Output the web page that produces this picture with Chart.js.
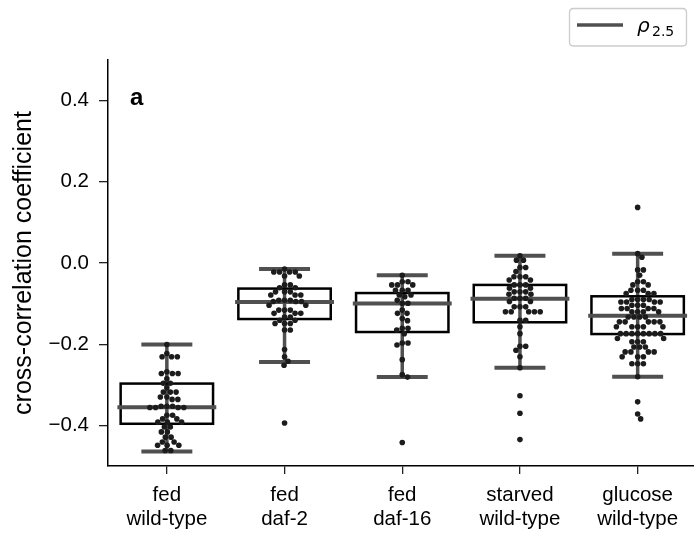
<!DOCTYPE html>
<html><head><meta charset="utf-8">
<script src="https://cdn.jsdelivr.net/npm/chart.js@4"></script>
<style>html,body{margin:0;padding:0;overflow:hidden;background:#fff}#wrap{width:700px;height:536px}</style>
</head><body><div id="wrap"><canvas id="c" width="700" height="536"></canvas></div>
<script>
const categories = [["fed","wild-type"],["fed","daf-2"],["fed","daf-16"],["starved","wild-type"],["glucose","wild-type"]];

const fedWildType = [-0.201,-0.223,-0.231,-0.231,-0.231,-0.268,-0.272,-0.272,-0.272,-0.285,-0.296,-0.296,-0.307,-0.318,-0.318,-0.318,-0.330,-0.330,-0.336,-0.336,-0.353,-0.353,-0.353,-0.356,-0.356,-0.356,-0.356,-0.375,-0.375,-0.384,-0.384,-0.392,-0.392,-0.392,-0.404,-0.404,-0.416,-0.416,-0.429,-0.429,-0.441,-0.441,-0.449,-0.449,-0.449,-0.462,-0.462];
const fedDaf2 = [-0.015,-0.022,-0.022,-0.022,-0.022,-0.032,-0.032,-0.054,-0.054,-0.061,-0.061,-0.071,-0.071,-0.071,-0.079,-0.079,-0.079,-0.092,-0.092,-0.092,-0.095,-0.095,-0.095,-0.104,-0.104,-0.116,-0.116,-0.116,-0.124,-0.124,-0.124,-0.133,-0.133,-0.141,-0.141,-0.149,-0.149,-0.149,-0.165,-0.165,-0.213,-0.231,-0.242,-0.252,-0.394];
const fedDaf16 = [-0.030,-0.046,-0.046,-0.054,-0.054,-0.054,-0.067,-0.067,-0.067,-0.079,-0.079,-0.083,-0.092,-0.099,-0.099,-0.116,-0.124,-0.124,-0.137,-0.142,-0.161,-0.161,-0.165,-0.174,-0.197,-0.197,-0.202,-0.238,-0.275,-0.281,-0.442];
const starvedWildType = [0.018,0.007,0.007,-0.011,-0.011,-0.021,-0.034,-0.034,-0.034,-0.042,-0.042,-0.054,-0.054,-0.054,-0.062,-0.062,-0.071,-0.071,-0.071,-0.077,-0.077,-0.087,-0.087,-0.087,-0.095,-0.095,-0.108,-0.108,-0.108,-0.120,-0.120,-0.120,-0.120,-0.120,-0.141,-0.141,-0.157,-0.174,-0.205,-0.205,-0.215,-0.231,-0.258,-0.327,-0.370,-0.435];
const glucoseWildType = [0.137,0.023,0.014,-0.017,-0.017,-0.030,-0.046,-0.046,-0.054,-0.054,-0.067,-0.067,-0.067,-0.075,-0.075,-0.075,-0.090,-0.090,-0.090,-0.090,-0.096,-0.096,-0.096,-0.096,-0.104,-0.104,-0.104,-0.112,-0.112,-0.112,-0.112,-0.120,-0.120,-0.120,-0.120,-0.133,-0.133,-0.133,-0.133,-0.145,-0.145,-0.145,-0.145,-0.145,-0.157,-0.157,-0.157,-0.157,-0.157,-0.174,-0.174,-0.174,-0.174,-0.174,-0.174,-0.174,-0.174,-0.186,-0.186,-0.194,-0.194,-0.194,-0.207,-0.207,-0.207,-0.219,-0.219,-0.219,-0.219,-0.231,-0.231,-0.231,-0.248,-0.248,-0.248,-0.280,-0.342,-0.372,-0.384];

const boxQ1 = [-0.396,-0.138,-0.170,-0.146,-0.175];
const boxMedian = [-0.355,-0.096,-0.100,-0.088,-0.130];
const boxQ3 = [-0.297,-0.063,-0.074,-0.054,-0.082];
const whiskerLow = [-0.464,-0.244,-0.281,-0.258,-0.280];
const whiskerHigh = [-0.201,-0.015,-0.030,0.018,0.023];

const yTicks = [-0.4,-0.2,0.0,0.2,0.4];
const xTicks = [0,1,2,3,4];
const legendLabel = ["ρ","2.5"];
const panelLabel = "a";

const groups = [fedWildType, fedDaf2, fedDaf16, starvedWildType, glucoseWildType];
const FONT = "'Liberation Sans', Arial, sans-serif";
const GRAY = '#505050';
const PT_R = 2.8;

const boxPlugin = {
  id: 'boxes',
  beforeDatasetsDraw(chart) {
    const {ctx, scales:{x, y}} = chart;
    ctx.save();
    for (let i = 0; i < groups.length; i++) {
      const xc = x.getPixelForValue(i);
      const ux = x.getPixelForValue(1) - x.getPixelForValue(0);
      ctx.strokeStyle = GRAY; ctx.lineCap = 'butt';
      ctx.lineWidth = 3.5;
      ctx.beginPath();
      ctx.moveTo(xc, y.getPixelForValue(whiskerLow[i]));
      ctx.lineTo(xc, y.getPixelForValue(whiskerHigh[i]));
      ctx.stroke();
      ctx.lineWidth = 4;
      const cw = 0.433 * ux / 2;
      for (const v of [whiskerLow[i], whiskerHigh[i]]) {
        const py = y.getPixelForValue(v);
        ctx.beginPath(); ctx.moveTo(xc - cw, py); ctx.lineTo(xc + cw, py); ctx.stroke();
      }
      const bw = 0.785 * ux / 2;
      const top = y.getPixelForValue(boxQ3[i]), bot = y.getPixelForValue(boxQ1[i]);
      ctx.strokeStyle = '#000'; ctx.lineWidth = 2.5; ctx.lineJoin = 'miter';
      ctx.strokeRect(xc - bw, top, 2 * bw, bot - top);
      ctx.strokeStyle = GRAY; ctx.lineWidth = 4;
      const mw = 0.84 * ux / 2;
      const my = y.getPixelForValue(boxMedian[i]);
      ctx.beginPath(); ctx.moveTo(xc - mw, my); ctx.lineTo(xc + mw, my); ctx.stroke();
    }
    ctx.restore();
  },
  afterDraw(chart) {
    const {ctx, chartArea} = chart;
    ctx.save();
    ctx.fillStyle = '#000';
    ctx.font = "bold 24px " + FONT;
    ctx.textBaseline = 'alphabetic';
    ctx.fillText(panelLabel, chartArea.left + 22, 105);
    const lx = 569.5, ly = 8.5, lw = 117, lh = 37.5, r = 4;
    ctx.beginPath();
    ctx.moveTo(lx + r, ly); ctx.lineTo(lx + lw - r, ly); ctx.quadraticCurveTo(lx + lw, ly, lx + lw, ly + r);
    ctx.lineTo(lx + lw, ly + lh - r); ctx.quadraticCurveTo(lx + lw, ly + lh, lx + lw - r, ly + lh);
    ctx.lineTo(lx + r, ly + lh); ctx.quadraticCurveTo(lx, ly + lh, lx, ly + lh - r);
    ctx.lineTo(lx, ly + r); ctx.quadraticCurveTo(lx, ly, lx + r, ly); ctx.closePath();
    ctx.fillStyle = '#fff'; ctx.fill();
    ctx.strokeStyle = '#cccccc'; ctx.lineWidth = 1.3; ctx.stroke();
    ctx.strokeStyle = GRAY; ctx.lineWidth = 3.5;
    ctx.beginPath(); ctx.moveTo(577, 25); ctx.lineTo(623, 25); ctx.stroke();
    ctx.fillStyle = '#000';
    ctx.font = "italic 20px 'DejaVu Sans', sans-serif";
    ctx.fillText(legendLabel[0], 637, 32);
    ctx.font = "14px 'DejaVu Sans', sans-serif";
    ctx.fillText(legendLabel[1], 652, 36);
    ctx.restore();
  }
};

const ctxEl = document.getElementById('c');
const chart = new Chart(ctxEl, {
  type: 'scatter',
  data: {
    datasets: groups.map((g, i) => ({
      data: g.map(v => ({x: i, y: v})),
      pointRadius: PT_R,
      pointHoverRadius: PT_R,
      pointBackgroundColor: '#1c1c1c',
      pointBorderWidth: 0,
      borderWidth: 0
    }))
  },
  options: {
    responsive: false,
    animation: false,
    devicePixelRatio: 1,
    layout: {padding: {left: 0, top: 60, right: 3.5, bottom: 0}},
    plugins: {legend: {display: false}, tooltip: {enabled: false}},
    scales: {
      x: {
        type: 'linear', min: -0.5, max: 4.5,
        afterBuildTicks: s => { s.ticks = xTicks.map(v => ({value: v})); },
        afterFit: s => { s.height = 70; },
        ticks: {
          callback: v => categories[v],
          color: '#000', font: {family: FONT, size: 20.5, lineHeight: 1.15}, padding: 10, maxRotation: 0, autoSkip: false
        },
        grid: {display: true, drawOnChartArea: false, drawTicks: true, tickLength: 8, color: '#222', lineWidth: 1.3},
        border: {display: true, color: '#000', width: 1.5}
      },
      y: {
        type: 'linear', min: -0.5, max: 0.5,
        afterBuildTicks: s => { s.ticks = yTicks.map(v => ({value: v})); },
        afterFit: s => { s.width = 108; },
        ticks: {
          callback: v => (v < 0 ? '\u2212' : '') + Math.abs(v).toFixed(1),
          color: '#000', font: {family: FONT, size: 20.5}, padding: 10
        },
        grid: {display: true, drawOnChartArea: false, drawTicks: true, tickLength: 9, color: '#222', lineWidth: 1.3},
        border: {display: true, color: '#000', width: 1.5},
        title: {display: true, text: 'cross-correlation coefficient', color: '#000', font: {family: FONT, size: 25}, padding: {top: 9, bottom: 0}}
      }
    }
  },
  plugins: [boxPlugin]
});

function swarm() {
  const xs = chart.scales.x, ys = chart.scales.y;
  const ux = xs.getPixelForValue(1) - xs.getPixelForValue(0);
  const d = PT_R * 2;
  groups.forEach((g, gi) => {
    const items = g.map((v, idx) => ({v, idx, py: ys.getPixelForValue(v)}));
    items.sort((a, b) => b.v - a.v);
    const placed = [];
    const off = new Array(g.length).fill(0);
    for (const it of items) {
      let best = 0;
      for (let s = 0; s < 60; s += 0.25) {
        let ok = false, cand = 0;
        for (const c of (s === 0 ? [0] : [s, -s])) {
          let clash = false;
          for (const p of placed) {
            const dx = c - p.dx, dy = it.py - p.py;
            if (dx * dx + dy * dy < d * d - 0.01) { clash = true; break; }
          }
          if (!clash) { ok = true; cand = c; break; }
        }
        if (ok) { best = cand; break; }
      }
      placed.push({dx: best, py: it.py});
      off[it.idx] = best;
    }
    chart.data.datasets[gi].data = g.map((v, k) => ({x: gi + off[k] / ux, y: v}));
  });
  chart.update('none');
}
swarm();
</script></body></html>
